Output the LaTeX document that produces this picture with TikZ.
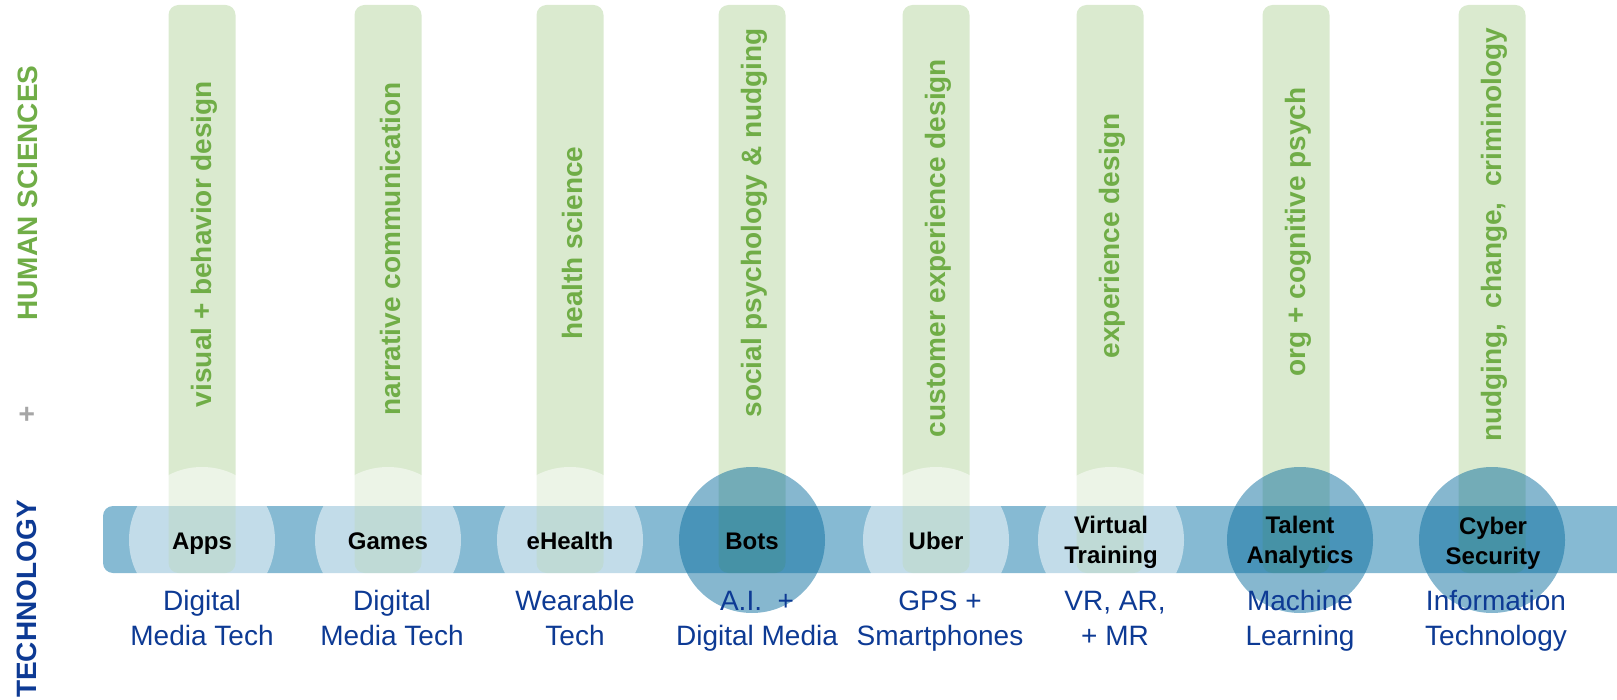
\documentclass[tikz,border=0pt]{standalone}
\usepackage{fontspec}
\setmainfont{Liberation Sans}
\definecolor{hsgreen}{HTML}{70AD47}
\definecolor{techblue}{HTML}{0D3A94}
\definecolor{barblue}{HTML}{86BAD3}
\definecolor{dotblue}{HTML}{0E6FA0}
\definecolor{plusgray}{HTML}{A6A6A6}

\begin{document}
\begin{tikzpicture}[x=0.5pt,y=-0.5pt,
	col/.style = {fill=hsgreen, fill opacity=0.26, rounded corners=5pt, minimum width=33.5pt, minimum height=284pt, inner sep=0pt},
	hum/.style = {rotate=90, text=hsgreen, inner sep=0pt, font=\fontsize{14}{17}\selectfont\bfseries},
	soft/.style = {circle, fill=white, fill opacity=0.5, minimum size=73pt, inner sep=0pt},
	hard/.style = {soft, fill=dotblue},
	app/.style = {anchor=base, align=center, inner sep=0pt, font=\fontsize{12}{15}\selectfont\bfseries},
	tech/.style = {anchor=base, text=techblue, align=center, inner sep=0pt, font=\fontsize{14}{17.5}\selectfont},
	side/.style = {rotate=90, inner sep=0pt, font=\fontsize{14}{17}\selectfont\bfseries}]
	\useasboundingbox (0,0) rectangle (1617,700);
	\clip (0,0) rectangle (1617,700);
	% axis labels
	\node[side, text=hsgreen] (hs) at (28,193) {HUMAN SCIENCES};
	\node[side, text=plusgray] (plus) at (28,414) {+};
	\node[side, text=techblue] (tc) at (27,599) {TECHNOLOGY};
	% technology bar
	\fill[barblue, rounded corners=5pt] (103,506) rectangle (1660,573);
	% human science columns
	\node[col] (c1) at (202,289) {};
	\node[col] (c2) at (388,289) {};
	\node[col] (c3) at (570,289) {};
	\node[col] (c4) at (752,289) {};
	\node[col] (c5) at (936,289) {};
	\node[col] (c6) at (1110,289) {};
	\node[col] (c7) at (1296,289) {};
	\node[col] (c8) at (1492,289) {};
	\node[hum] (h1) at (204,244) {visual + behavior design};
	\node[hum] (h2) at (390,249) {narrative communication};
	\node[hum] (h3) at (572,243) {health science};
	\node[hum] (h4) at (754,223) {social psychology \& nudging};
	\node[hum] (h5) at (938,248) {customer experience design};
	\node[hum] (h6) at (1112,236) {experience design};
	\node[hum] (h7) at (1298,232) {org + cognitive psych};
	\node[hum] (h8) at (1494,235) {nudging,\ \ change,\ \ criminology};
	% application circles
	\node[soft] (d1) at (202,540) {};
	\node[soft] (d2) at (388,540) {};
	\node[soft] (d3) at (570,540) {};
	\node[hard] (d4) at (752,540) {};
	\node[soft] (d5) at (936,540) {};
	\node[soft] (d6) at (1111,540) {};
	\node[hard] (d7) at (1300,540) {};
	\node[hard] (d8) at (1492,540) {};
	\node[app] (t1) at (202,549) {Apps};
	\node[app] (t2) at (388,549) {Games};
	\node[app] (t3) at (570,549) {eHealth};
	\node[app] (t4) at (752,549) {Bots};
	\node[app] (t5) at (936,549) {Uber};
	\node[app] (t6) at (1111,563) {Virtual\\Training};
	\node[app] (t7) at (1300,563) {Talent\\Analytics};
	\node[app] (t8) at (1493,564) {Cyber\\Security};
	% technologies
	\node[tech] (b1) at (202,645) {Digital\\Media Tech};
	\node[tech] (b2) at (392,645) {Digital\\Media Tech};
	\node[tech] (b3) at (575,645) {Wearable\\Tech};
	\node[tech] (b4) at (757,645) {A.I.\ \ +\\Digital Media};
	\node[tech] (b5) at (940,645) {GPS +\\Smartphones};
	\node[tech] (b6) at (1115,645) {VR, AR,\\+ MR};
	\node[tech] (b7) at (1300,645) {Machine\\Learning};
	\node[tech] (b8) at (1496,645) {Information\\Technology};
\end{tikzpicture}
\end{document}
